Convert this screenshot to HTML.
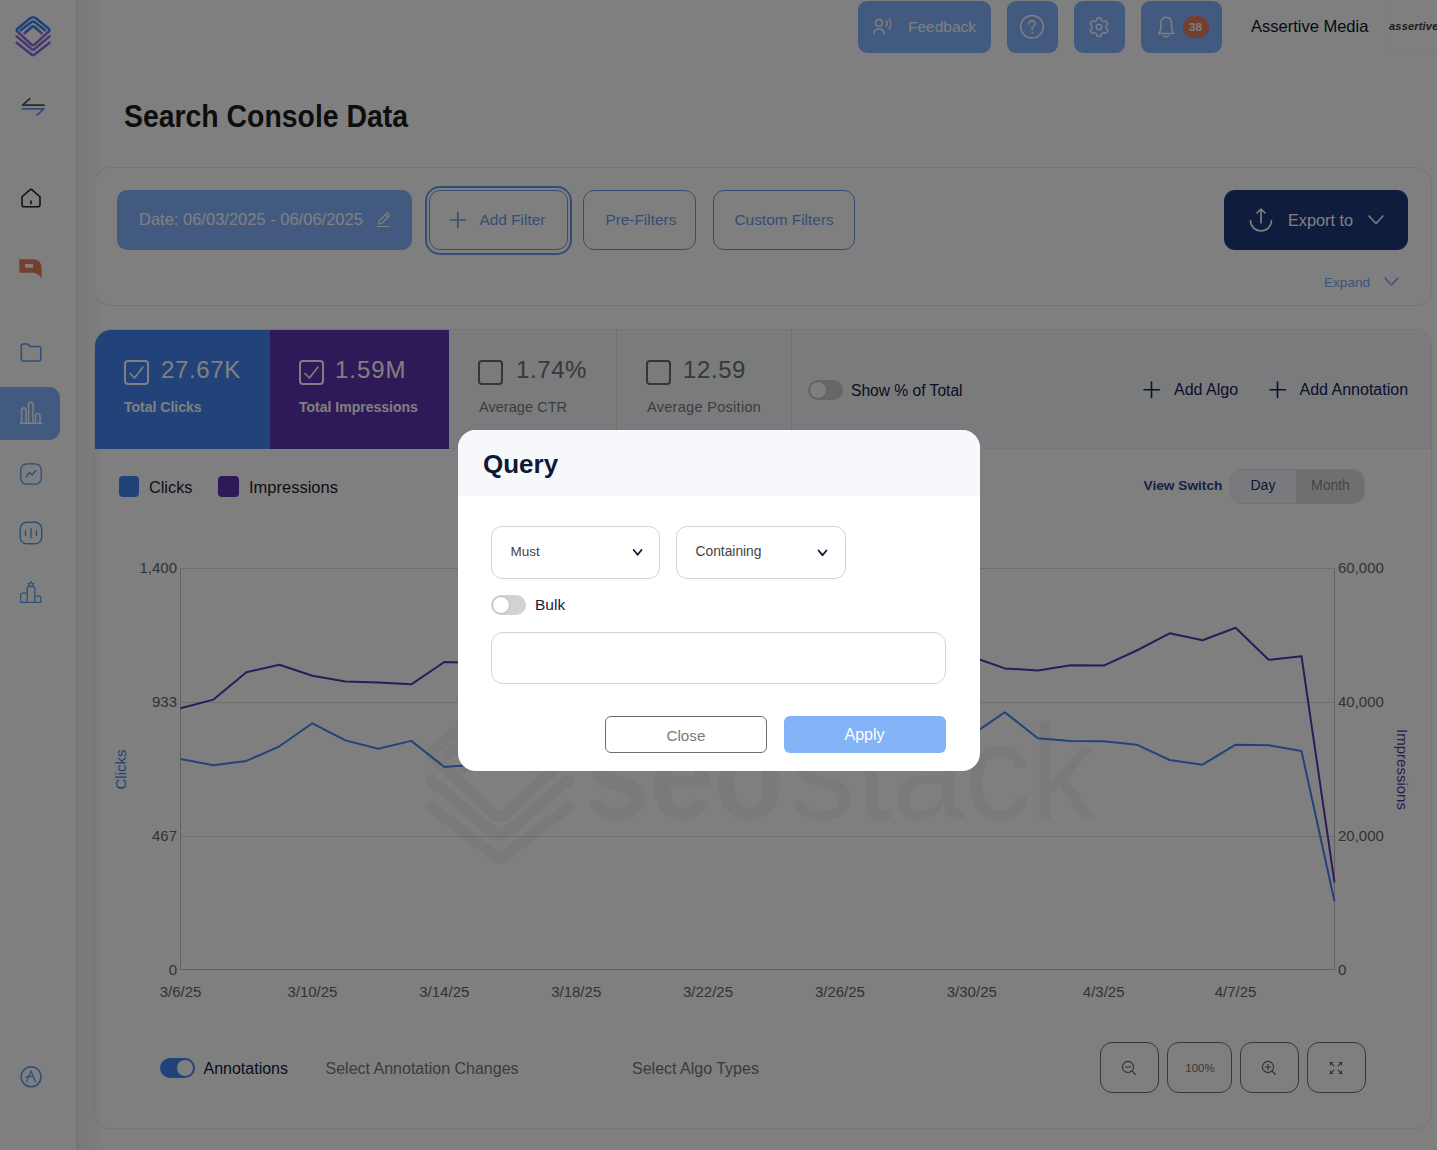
<!DOCTYPE html>
<html><head><meta charset="utf-8">
<style>
*{box-sizing:border-box;margin:0;padding:0}
html,body{width:1437px;height:1150px;overflow:hidden;background:#fff;font-family:"Liberation Sans",sans-serif;position:relative}
.abs{position:absolute}
.t{position:absolute;white-space:nowrap;line-height:1}
svg{position:absolute;overflow:visible}
#sidebar{position:absolute;left:0;top:0;width:77px;height:1150px;background:#fff;border-right:1px solid #e9e9e9}
#shadow{position:absolute;left:77px;top:0;width:24px;height:1150px;background:linear-gradient(90deg,#f0f0f0,#f4f4f4 25%,#f8f8f8 70%,#fcfcfc)}
.hbtn{position:absolute;top:1px;height:52px;background:#85b5ff;border-radius:9px}
.card{position:absolute;background:#fff;border-radius:16px;box-shadow:0 0 0 1px #ebebeb,0 1px 3px rgba(0,0,0,0.05)}
.obtn{position:absolute;top:190px;height:60px;border:1px solid #6a9cee;border-radius:11px}
.obtn .t{color:#6a9cee;font-size:15.4px;top:21px}
.chk{position:absolute;width:25px;height:25px;border:2px solid #fff;border-radius:4px}
.num{font-size:24px}
.lbl{font-size:14px}
.zb{position:absolute;top:1042px;height:51px;border:1px solid #707070;border-radius:12px}
#overlay{position:absolute;left:0;top:0;width:1437px;height:1150px;background:rgba(0,0,0,0.5)}
</style></head><body>

<!-- SIDEBAR -->
<div id="sidebar"></div>
<div id="shadow"></div>
<div class="abs" style="left:0;top:387px;width:60px;height:53px;background:#85b5ff;border-radius:0 11px 11px 0"></div>
<svg width="77" height="1150" style="left:0;top:0" viewBox="0 0 77 1150" fill="none" stroke-linecap="round" stroke-linejoin="round">
  <defs>
    <linearGradient id="lg" x1="0" y1="16" x2="0" y2="56" gradientUnits="userSpaceOnUse">
      <stop offset="0" stop-color="#3a80f4"/><stop offset="0.36" stop-color="#3a80f4"/><stop offset="0.42" stop-color="#9068e8"/><stop offset="1" stop-color="#9068e8"/>
    </linearGradient>
  </defs>
  <g stroke="url(#lg)" stroke-width="2.5">
    <path d="M16.8 29.3 L29.9 18.5 Q33.1 15.9 36.3 18.5 L49.4 29.3 V30.8 L35.1 44.2 Q33.1 46 31.1 44.2 L16.8 30.8 Z"/>
    <path d="M20.6 30.2 L31.3 22.2 Q33.1 21 34.9 22.2 L45 30.2"/>
    <path d="M24.6 33.3 L31.6 27 Q33.1 25.8 34.6 27 L41.6 33.3"/>
    <path d="M16.6 36.4 L31.6 49 Q33.1 50.2 34.6 49 L49.6 36.4"/>
    <path d="M16.6 42.8 L31.6 54.4 Q33.1 55.6 34.6 54.4 L49.6 42.8"/>
  </g>
  <!-- swap -->
  <path d="M22.6 105.1 H44 M22.6 105.1 L29.8 98.6" stroke="#555" stroke-width="1.8"/>
  <path d="M22.2 108.8 H44 M44 108.8 L37 115.2" stroke="#5e9cf2" stroke-width="1.8"/>
  <!-- home -->
  <path d="M22.3 196.5 L30.2 189.6 Q31 189 31.8 189.6 L39.7 196.5 Q40 197 40 197.8 V204.5 Q40 206.8 37.8 206.8 H24.2 Q22 206.8 22 204.5 V197.8 Q22 197 22.3 196.5 Z" stroke="#222" stroke-width="1.6"/>
  <path d="M31 201 V203.6" stroke="#222" stroke-width="1.6"/>
  <!-- red chat -->
  <path d="M19.3 259.3 H34.6 Q41.7 260.6 41.7 268.6 V278.4 Q38.3 273.6 33.8 272.8 H19.3 Z M25 263.9 V267.8 H33.1 V263.9 Z" fill="#e67e5e" fill-rule="evenodd" stroke="none"/>
  <!-- folder -->
  <path d="M21.3 346 Q21.3 344 23.3 344 H27.5 L30 346.5 H39 Q40.8 346.5 40.8 348.5 V359 Q40.8 361 38.8 361 H23.3 Q21.3 361 21.3 359 Z" stroke="#5e9cf2" stroke-width="1.6"/>
  <!-- bar chart active -->
  <g stroke="#fff" stroke-width="1.5">
    <path d="M20.3 423.3 H41.7"/>
    <path d="M21.6 423 V410.2 Q21.6 408 23.8 408 Q26 408 26 410.2 V423"/>
    <path d="M28.6 423 V404.4 Q28.6 402.2 30.8 402.2 Q33 402.2 33 404.4 V423"/>
    <path d="M35.6 423 V415.8 Q35.6 413.6 37.8 413.6 Q40 413.6 40 415.8 V423"/>
  </g>
  <!-- trend -->
  <rect x="20.8" y="463.8" width="20.4" height="20.4" rx="6" stroke="#5e9cf2" stroke-width="1.3"/>
  <path d="M26 477 L29.5 472.5 L32 475 L35.8 470.5" stroke="#5e9cf2" stroke-width="1.4"/>
  <!-- bars -->
  <rect x="20.2" y="522.3" width="21.5" height="21.5" rx="6.5" stroke="#5e9cf2" stroke-width="1.4"/>
  <path d="M25.5 530.5 V535.5 M31 528.5 V537.5 M36.5 530.5 V535.5" stroke="#5e9cf2" stroke-width="1.4"/>
  <!-- podium -->
  <path d="M20.7 602.4 V595 Q20.7 593 22.7 593 H27.2 V588 Q27.2 586.5 28.7 586.5 H33.3 Q34.8 586.5 34.8 588 V596 H39 Q40.8 596 40.8 598 V602.4 Z M27.2 593 V602.4 M34.8 596 V602.4" stroke="#5e9cf2" stroke-width="1.25"/>
  <path d="M31 581.6 L32.1 583.4 L34 583.7 L32.6 585 L33 586.8 L31 585.9 L29 586.8 L29.4 585 L28 583.7 L29.9 583.4 Z" stroke="#5e9cf2" stroke-width="1.1"/>
  <!-- A circle -->
  <circle cx="31.1" cy="1076.8" r="10" stroke="#5e9cf2" stroke-width="1.5"/>
  <path d="M26.7 1081.8 L31 1071 L35.5 1081.8 M26 1077 Q29 1076 32.5 1076.6" stroke="#5e9cf2" stroke-width="1.3"/>
</svg>

<!-- HEADER BUTTONS -->
<div class="hbtn" style="left:858px;width:133px"></div>
<div class="t" style="left:908px;top:19.3px;font-size:15.5px;color:#fff">Feedback</div>
<div class="hbtn" style="left:1007px;width:51px"></div>
<div class="hbtn" style="left:1074px;width:51px"></div>
<div class="hbtn" style="left:1141px;width:81px"></div>
<svg width="1437" height="60" style="left:0;top:0" viewBox="0 0 1437 60" fill="none" stroke="#fff" stroke-linecap="round" stroke-linejoin="round">
  <!-- feedback person -->
  <circle cx="878.9" cy="22.9" r="3.3" stroke-width="1.5"/>
  <path d="M873.9 33.6 Q873.9 28.9 878.9 28.9 Q883.9 28.9 883.9 33.6" stroke-width="1.5"/>
  <path d="M886.3 20.9 Q888.1 23.5 886.3 26.2 M889.2 18.5 Q892.4 23.9 889.2 29.3" stroke-width="1.4"/>
  <!-- help -->
  <circle cx="1032" cy="26.8" r="11.3" stroke-width="1.5"/>
  <path d="M1028.9 24 Q1029.1 20.8 1032.2 20.8 Q1035.3 21 1035.1 23.9 Q1034.9 25.8 1032.2 27.2 V29.4" stroke-width="1.5"/>
  <circle cx="1032.2" cy="32.6" r="0.6" fill="#fff" stroke-width="1"/>
  <!-- gear -->
  <g transform="translate(1099,27.1) scale(0.9) translate(-1099,-27.5)">
  <path d="M1096.9 17.3 H1101.1 L1101.8 20.1 L1104 21.4 L1106.8 20.6 L1108.9 24.2 L1106.8 26.2 V28.8 L1108.9 30.8 L1106.8 34.4 L1104 33.6 L1101.8 34.9 L1101.1 37.7 H1096.9 L1096.2 34.9 L1094 33.6 L1091.2 34.4 L1089.1 30.8 L1091.2 28.8 V26.2 L1089.1 24.2 L1091.2 20.6 L1094 21.4 L1096.2 20.1 Z" stroke-width="1.6"/>
  <circle cx="1099" cy="27.5" r="3" stroke-width="1.6"/>
  </g>
  <!-- bell -->
  <path d="M1158.5 33.5 H1174 Q1171.6 31 1171.6 28 V24.5 Q1171.6 17.3 1166.2 17.3 Q1160.8 17.3 1160.8 24.5 V28 Q1160.8 31 1158.5 33.5 Z" stroke-width="1.5"/>
  <path d="M1163.8 35.8 Q1166.2 38 1168.6 35.8" stroke-width="1.4"/>
</svg>
<div class="abs" style="left:1183px;top:16px;width:26px;height:22px;border-radius:11px;background:#e67e5c"></div>
<div class="t" style="left:1189px;top:21.5px;font-size:11.5px;font-weight:700;color:#fff">38</div>
<div class="t" style="left:1251px;top:18px;font-size:16.5px;color:#0b1530">Assertive Media</div>
<div class="abs" style="left:1386px;top:0;width:60px;height:52px;background:#fff;border-radius:6px;box-shadow:0 0 2px rgba(0,0,0,0.06)"></div>
<div class="t" style="left:1389px;top:20.5px;font-size:11px;font-weight:700;font-style:italic;color:#3a3a46;letter-spacing:0.2px">assertive</div>

<!-- TITLE -->
<div class="t" style="left:124px;top:102.7px;font-size:28.4px;font-weight:700;color:#1c1c1c;transform:scaleY(1.08);transform-origin:0 24px">Search Console Data</div>

<!-- FILTER CARD -->
<div class="card" style="left:95px;top:167.5px;width:1336px;height:137px"></div>
<div class="abs" style="left:117px;top:190px;width:295px;height:60px;background:#85b5ff;border-radius:10px"></div>
<div class="t" style="left:139px;top:211.2px;font-size:16.5px;color:#fff">Date: 06/03/2025 - 06/06/2025</div>
<svg width="20" height="20" style="left:375px;top:210px" viewBox="0 0 20 20" fill="none" stroke="#fff" stroke-width="1.2" stroke-linecap="round" stroke-linejoin="round">
  <path d="M3.5 14 L4.2 11 L11.5 3.7 Q12.5 2.8 13.5 3.7 L14 4.2 Q14.9 5.2 14 6.2 L6.7 13.4 Z M10.5 4.8 L12.9 7.2 M2.5 16.5 H14"/>
</svg>
<div class="abs" style="left:425px;top:185.5px;width:147px;height:69px;border:2px solid #6a9cee;border-radius:15px"></div>
<div class="obtn" style="left:429px;width:139px"><div class="t" style="left:49.5px">Add Filter</div></div>
<svg width="20" height="20" style="left:448px;top:210px" viewBox="0 0 20 20" fill="none" stroke="#6a9cee" stroke-width="1.6" stroke-linecap="round"><path d="M9.8 2.5 V17.5 M2.3 10 H17.3"/></svg>
<div class="obtn" style="left:583px;width:113px"><div class="t" style="left:21.4px">Pre-Filters</div></div>
<div class="obtn" style="left:713px;width:142px"><div class="t" style="left:20.5px">Custom Filters</div></div>
<div class="abs" style="left:1224px;top:190px;width:184px;height:60px;background:#1e387c;border-radius:11px"></div>
<svg width="30" height="30" style="left:1246px;top:205px" viewBox="0 0 30 30" fill="none" stroke="#fff" stroke-width="1.6" stroke-linecap="round" stroke-linejoin="round">
  <path d="M4.5 15.5 A10.5 10.5 0 0 0 25.5 15.5 M15 4 V18 M11 8 L15 4 L19 8"/>
</svg>
<div class="t" style="left:1288px;top:211.5px;font-size:16.3px;color:#fff">Export to</div>
<svg width="20" height="12" style="left:1368px;top:214px" viewBox="0 0 20 12" fill="none" stroke="#fff" stroke-width="1.6" stroke-linecap="round" stroke-linejoin="round"><path d="M1 2 L8 9.5 L15 2"/></svg>
<div class="t" style="left:1324px;top:275.9px;font-size:13.6px;color:#78aaf4">Expand</div>
<svg width="20" height="12" style="left:1384px;top:276px" viewBox="0 0 20 12" fill="none" stroke="#78aaf4" stroke-width="1.6" stroke-linecap="round" stroke-linejoin="round"><path d="M1 2 L7.5 9 L14 2"/></svg>

<!-- STATS CARD -->
<div class="card" style="left:95px;top:330px;width:1336px;height:798px;overflow:hidden">
  <div class="abs" style="left:0;top:0;width:1337px;height:119px;background:#f5f6f8;border-bottom:1px solid #eceef0"></div>
  <div class="abs" style="left:0;top:0;width:175px;height:119px;background:#4486f4"></div>
  <div class="abs" style="left:175px;top:0;width:179px;height:119px;background:#5c34b0"></div>
  <div class="abs" style="left:521px;top:0;width:1px;height:119px;background:#e2e2e4"></div>
  <div class="abs" style="left:696px;top:0;width:1px;height:119px;background:#e2e2e4"></div>
  <div class="abs" style="left:0;top:119px;width:10px;height:680px;background:linear-gradient(90deg,#f6f6f6,#fff)"></div>
</div>
<!-- tiles content -->
<div class="chk" style="left:124px;top:360px"></div>
<svg width="20" height="20" style="left:126px;top:362px" viewBox="0 0 20 20" fill="none" stroke="#fff" stroke-width="1.6" stroke-linecap="round" stroke-linejoin="round"><path d="M4 11.5 L8.5 16 L17 5"/></svg>
<div class="t num" style="left:161px;top:358.4px;color:#fff;letter-spacing:0.65px">27.67K</div>
<div class="t lbl" style="left:124px;top:400.2px;color:#fff;font-weight:700">Total Clicks</div>
<div class="chk" style="left:299px;top:360px"></div>
<svg width="20" height="20" style="left:301px;top:362px" viewBox="0 0 20 20" fill="none" stroke="#fff" stroke-width="1.6" stroke-linecap="round" stroke-linejoin="round"><path d="M4 11.5 L8.5 16 L17 5"/></svg>
<div class="t num" style="left:335px;top:358.4px;color:#fff;letter-spacing:0.95px">1.59M</div>
<div class="t lbl" style="left:299px;top:400.2px;color:#fff;font-weight:700">Total Impressions</div>
<div class="chk" style="left:478px;top:360px;border-color:#6a6a6a"></div>
<div class="t num" style="left:516px;top:358.4px;color:#707070;letter-spacing:0.6px">1.74%</div>
<div class="t lbl" style="left:479px;top:399.8px;color:#7a7a7a;font-size:14.5px;letter-spacing:0.05px">Average CTR</div>
<div class="chk" style="left:646px;top:360px;border-color:#6a6a6a"></div>
<div class="t num" style="left:683px;top:358.4px;color:#707070;letter-spacing:0.6px">12.59</div>
<div class="t lbl" style="left:647px;top:399.8px;color:#7a7a7a;font-size:14.5px;letter-spacing:0.3px">Average Position</div>

<!-- toggle show % -->
<div class="abs" style="left:808px;top:380px;width:35px;height:20px;border-radius:10px;background:#cfcfcf"></div>
<div class="abs" style="left:808.5px;top:381px;width:18px;height:18px;border-radius:9px;background:#fff;border:1px solid #bdbdbd"></div>
<div class="t" style="left:851px;top:382.6px;font-size:15.6px;color:#14203c">Show % of Total</div>
<svg width="20" height="20" style="left:1141px;top:380px" viewBox="0 0 20 20" fill="none" stroke="#16225a" stroke-width="1.6" stroke-linecap="round"><path d="M10.5 2 V17.5 M3 9.8 H18.5"/></svg>
<div class="t" style="left:1174px;top:382px;font-size:16px;color:#16225a">Add Algo</div>
<svg width="20" height="20" style="left:1267px;top:380px" viewBox="0 0 20 20" fill="none" stroke="#16225a" stroke-width="1.6" stroke-linecap="round"><path d="M10.5 2 V17.5 M3 9.8 H18.5"/></svg>
<div class="t" style="left:1299.5px;top:382px;font-size:16px;color:#16225a">Add Annotation</div>

<!-- legend -->
<div class="abs" style="left:119px;top:476px;width:20px;height:21px;border-radius:4px;background:#4486f4"></div>
<div class="t" style="left:149px;top:478.6px;font-size:16.3px;color:#1c1c28">Clicks</div>
<div class="abs" style="left:218px;top:476px;width:21px;height:21px;border-radius:4px;background:#5c34b0"></div>
<div class="t" style="left:249px;top:478.8px;font-size:16.5px;color:#1c1c28">Impressions</div>

<!-- view switch -->
<div class="t" style="left:1143.5px;top:478.6px;font-size:13.7px;font-weight:700;color:#2a4494">View Switch</div>
<div class="abs" style="left:1230px;top:469px;width:135px;height:35px;border-radius:12px;border:1px solid #e4e6ea;background:#f3f5fb;overflow:hidden">
  <div class="abs" style="left:65px;top:0;width:70px;height:35px;background:#dfdfdf"></div>
</div>
<div class="t" style="left:1250.5px;top:478.4px;font-size:14px;color:#1a2e66">Day</div>
<div class="t" style="left:1311px;top:478.4px;font-size:14px;color:#8a8a8a">Month</div>

<!-- CHART -->
<svg width="1437" height="1150" style="left:0;top:0" viewBox="0 0 1437 1150" fill="none">
  <!-- watermark -->
  <g fill="#000" opacity="0.04" font-family="Liberation Sans">
    <text x="585" y="819" font-size="132" font-weight="700" textLength="199" lengthAdjust="spacingAndGlyphs">seo</text>
    <text x="790" y="819" font-size="136" font-weight="400" textLength="306" lengthAdjust="spacingAndGlyphs">stack</text>
  </g>
  <g transform="translate(362.4,629.3) scale(4.15)" stroke="#000" opacity="0.035" stroke-width="2.7" fill="none" stroke-linecap="round" stroke-linejoin="round">
    <path d="M16.8 29.3 L30.9 18 Q33.1 16.4 35.3 18 L49.4 29.3 V30.6 L34.8 44.3 Q33.1 45.8 31.4 44.3 L16.8 30.6 Z"/>
    <path d="M20.6 30.2 L31.3 22.2 Q33.1 21 34.9 22.2 L45 30.2"/>
    <path d="M24.6 33.3 L31.6 27 Q33.1 25.8 34.6 27 L41.6 33.3"/>
    <path d="M16.6 36.4 L31.6 49 Q33.1 50.2 34.6 49 L49.6 36.4"/>
    <path d="M16.6 42.8 L31.6 54.4 Q33.1 55.6 34.6 54.4 L49.6 42.8"/>
  </g>
  <g stroke="#dcdcdc" stroke-width="1">
    <path d="M180.5 568.5 H1334.5 M180.5 702.5 H1334.5 M180.5 836.5 H1334.5"/>
  </g>
  <path d="M180.5 568 V970 M1334.5 568 V970 M180 969.5 H1335" stroke="#c4c4c4" stroke-width="1"/>
  <polyline stroke="#5c34b0" stroke-width="2" stroke-linejoin="round" points="180.5,708.3 213.5,699.6 246.4,672.2 279.4,664.8 312.4,675.7 345.4,681.5 378.3,682.6 411.3,684.3 444.3,662.0 477.2,663.0 510.2,668.0 543.2,672.0 576.2,660.0 609.1,655.0 642.1,662.0 675.1,668.0 708.0,664.0 741.0,658.0 774.0,655.0 807.0,660.0 839.9,650.0 872.9,645.0 905.9,655.0 938.8,660.0 971.8,656.8 1004.8,668.4 1037.8,670.5 1070.7,665.2 1103.7,665.6 1136.7,650.5 1169.6,633.3 1202.6,640.2 1235.6,627.8 1268.6,659.8 1301.5,656.2 1334.5,882.4"/>
  <polyline stroke="#4486f4" stroke-width="2" stroke-linejoin="round" points="180.5,759.1 213.5,765.2 246.4,760.9 279.4,746.3 312.4,723.3 345.4,740.4 378.3,748.7 411.3,740.9 444.3,767.0 477.2,764.5 510.2,750.0 543.2,745.0 576.2,740.0 609.1,735.0 642.1,745.0 675.1,750.0 708.0,742.0 741.0,738.0 774.0,730.0 807.0,740.0 839.9,745.0 872.9,735.0 905.9,730.0 938.8,738.0 971.8,734.9 1004.8,712.2 1037.8,738.3 1070.7,740.9 1103.7,741.3 1136.7,744.7 1169.6,760.0 1202.6,764.7 1235.6,744.7 1268.6,745.2 1301.5,751.1 1334.5,901.3"/>
  <g font-family="Liberation Sans" font-size="15" fill="#666">
    <text x="177" y="573" text-anchor="end">1,400</text>
    <text x="177" y="707" text-anchor="end">933</text>
    <text x="177" y="841" text-anchor="end">467</text>
    <text x="177" y="974.5" text-anchor="end">0</text>
    <text x="1338" y="573">60,000</text>
    <text x="1338" y="707">40,000</text>
    <text x="1338" y="841">20,000</text>
    <text x="1338" y="974.5">0</text>
  </g>
  <g font-family="Liberation Sans" font-size="15" fill="#666" text-anchor="middle">
    <text x="180.5" y="996.6">3/6/25</text>
    <text x="312.4" y="996.6">3/10/25</text>
    <text x="444.3" y="996.6">3/14/25</text>
    <text x="576.2" y="996.6">3/18/25</text>
    <text x="708" y="996.6">3/22/25</text>
    <text x="839.9" y="996.6">3/26/25</text>
    <text x="971.8" y="996.6">3/30/25</text>
    <text x="1103.7" y="996.6">4/3/25</text>
    <text x="1235.6" y="996.6">4/7/25</text>
  </g>
  <text transform="translate(126,769.5) rotate(-90)" font-family="Liberation Sans" font-size="15" fill="#4486f4" text-anchor="middle">Clicks</text>
  <text transform="translate(1396.5,769.5) rotate(90)" font-family="Liberation Sans" font-size="15" fill="#5c34b0" text-anchor="middle">Impressions</text>
</svg>

<!-- BOTTOM BAR -->
<div class="abs" style="left:159.5px;top:1058px;width:35.5px;height:20px;border-radius:10px;background:#4486f4"></div>
<div class="abs" style="left:177px;top:1060px;width:16px;height:16px;border-radius:8px;background:#fff"></div>
<div class="t" style="left:203.5px;top:1060.5px;font-size:16px;color:#14203c">Annotations</div>
<div class="t" style="left:325.5px;top:1060.5px;font-size:16px;color:#777">Select Annotation Changes</div>
<div class="t" style="left:632px;top:1060.5px;font-size:16px;color:#777">Select Algo Types</div>
<div class="zb" style="left:1100px;width:59px"></div>
<div class="zb" style="left:1167px;width:65px"></div>
<div class="zb" style="left:1240px;width:59px"></div>
<div class="zb" style="left:1307px;width:59px"></div>
<div class="t" style="left:1185.3px;top:1063px;font-size:11.5px;color:#737373">100%</div>
<svg width="1437" height="1150" style="left:0;top:0" viewBox="0 0 1437 1150" fill="none" stroke="#666" stroke-linecap="round" stroke-width="1.15">
  <circle cx="1128" cy="1067" r="5.6"/><path d="M1125.3 1067 H1130.7 M1132 1071 L1135.5 1074.5"/>
  <circle cx="1268" cy="1067" r="5.6"/><path d="M1265.3 1067 H1270.7 M1268 1064.3 V1069.7 M1272 1071 L1275.5 1074.5"/>
  <path d="M1330.5 1062.5 L1333.8 1065.8 M1341.5 1062.5 L1338.2 1065.8 M1330.5 1073.5 L1333.8 1070.2 M1341.5 1073.5 L1338.2 1070.2" stroke-width="1.2"/><path d="M1330.5 1064.8 V1062.5 H1332.8 M1341.5 1064.8 V1062.5 H1339.2 M1330.5 1071.2 V1073.5 H1332.8 M1341.5 1071.2 V1073.5 H1339.2" stroke-width="1.2"/>
</svg>

<div id="overlay"></div>

<!-- MODAL -->
<div class="abs" style="left:458px;top:430px;width:522px;height:341px;background:#fff;border-radius:18px;overflow:hidden">
  <div class="abs" style="left:0;top:0;width:522px;height:66px;background:#f7f8fc"></div>
  <div class="abs" style="left:33px;top:96px;width:169px;height:53px;border:1px solid #d4d4d4;border-radius:11px"></div>
  <div class="abs" style="left:218px;top:96px;width:170px;height:53px;border:1px solid #d4d4d4;border-radius:11px"></div>
  <div class="abs" style="left:33px;top:202px;width:455px;height:52px;border:1px solid #d4d4d4;border-radius:12px"></div>
  <div class="abs" style="left:147px;top:286px;width:162px;height:37px;border:1.5px solid #6e6e6e;border-radius:6px"></div>
  <div class="abs" style="left:326px;top:286px;width:162px;height:37px;background:#84b3f8;border-radius:6px"></div>
  <div class="abs" style="left:33px;top:165px;width:35px;height:20px;border-radius:10px;background:#d2d2d2"></div>
  <div class="abs" style="left:33.5px;top:166px;width:18px;height:18px;border-radius:9px;background:#fff;border:1px solid #bdbdbd"></div>
</div>
<div class="t" style="left:483px;top:450.5px;font-size:26px;font-weight:700;color:#0e1a35">Query</div>
<div class="t" style="left:510.5px;top:545.3px;font-size:13.5px;color:#444">Must</div>
<div class="t" style="left:695.5px;top:545.3px;font-size:13.8px;color:#444">Containing</div>
<svg width="1437" height="1150" style="left:0;top:0" viewBox="0 0 1437 1150" fill="none" stroke="#0e1a35" stroke-width="1.8" stroke-linecap="round" stroke-linejoin="round">
  <path d="M633.7 550 L637.6 554.8 L641.5 550"/>
  <path d="M818.5 550.5 L822.5 555.2 L826.5 550.5"/>
</svg>
<div class="t" style="left:535px;top:596.7px;font-size:15.5px;color:#14203c">Bulk</div>
<div class="t" style="left:666.5px;top:727.5px;font-size:15.2px;color:#7a7a7a">Close</div>
<div class="t" style="left:844.5px;top:726.9px;font-size:16px;color:#fff">Apply</div>

</body></html>
